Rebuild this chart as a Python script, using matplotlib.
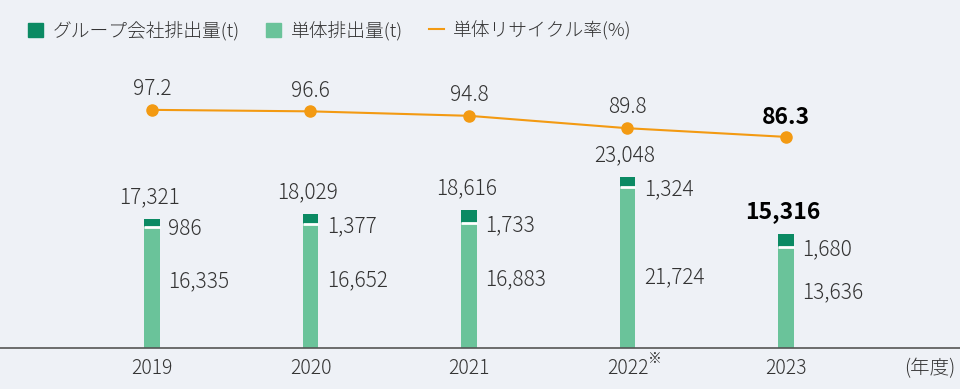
import numpy as np
import matplotlib.pyplot as plt
from matplotlib.patches import Patch
from matplotlib.lines import Line2D

plt.rcParams['font.family'] = ['Noto Sans CJK JP', 'DejaVu Sans']

years = ['2019', '2020', '2021', '2022', '2023']
total = [17321, 18029, 18616, 23048, 15316]
group = [986, 1377, 1733, 1324, 1680]
single = [16335, 16652, 16883, 21724, 13636]
recycle = [97.2, 96.6, 94.8, 89.8, 86.3]

bg = '#eef1f6'
c_group = '#0b8a63'
c_single = '#6ac39a'
c_line = '#f39a12'
txt = '#333333'

fig = plt.figure(figsize=(9.6, 3.89), dpi=100, facecolor=bg)
ax = fig.add_axes([0, 41/389, 1, 288/389], facecolor=bg)
x = np.arange(len(years))
w = 0.10

ax.bar(x, single, w, color=c_single, zorder=2)
ax.bar(x, group, w, bottom=single, color=c_group, zorder=2)
ax.hlines(single, x - w/2, x + w/2, color='white', lw=2, zorder=3)

ax.set_xlim(-0.959, 5.098)
ax.set_ylim(0, 38818)
for s in ['left', 'right', 'top']:
    ax.spines[s].set_visible(False)
ax.spines['bottom'].set_color('#555555')
ax.spines['bottom'].set_linewidth(1.2)
ax.set_yticks([])
ax.set_xticks(x)
ax.set_xticklabels(years, fontsize=14, color=txt, fontweight='light')
ax.tick_params(axis='x', length=0, pad=7)

for i in range(len(years)):
    last = i == len(years) - 1
    ax.annotate(f'{total[i]:,}', (x[i], total[i]), xytext=(-2, 8), textcoords='offset points',
                ha='center', va='bottom', fontsize=16.5 if last else 15,
                color='black' if last else txt,
                fontweight='bold' if last else 'light')
    ax.annotate(f'{group[i]:,}', (x[i] + w/2, single[i] - 300), xytext=(6, 0),
                textcoords='offset points', ha='left', va='center', fontsize=15, color=txt,
                fontweight='light')
    ax.annotate(f'{single[i]:,}', (x[i] + w/2, min(single[i]*0.55, 9600)), xytext=(6, 0),
                textcoords='offset points', ha='left', va='center', fontsize=15, color=txt,
                fontweight='light')

ax.annotate('※', (x[3], 0), xytext=(15, -3), textcoords='offset points',
            ha='left', va='top', fontsize=10, color=txt)
ax.text(0.995, -0.035, '(年度)', transform=ax.transAxes, ha='right', va='top',
        fontsize=14, color=txt, fontweight='light')

ax2 = ax.twinx()
ax2.set_ylim(1.2, 117.3)
ax2.axis('off')
ax2.plot(x, recycle, color=c_line, lw=1.5, marker='o', ms=8, zorder=4)
for i, v in enumerate(recycle):
    last = i == len(years) - 1
    ax2.annotate(f'{v}', (x[i], v), xytext=(0, 7 if not last else 6), textcoords='offset points',
                 ha='center', va='bottom', fontsize=16.5 if last else 15,
                 color='black' if last else txt,
                 fontweight='bold' if last else 'light')

handles = [Patch(color=c_group), Patch(color=c_single), Line2D([0], [0], color=c_line, lw=1.5)]
labels = ['グループ会社排出量(t)', '単体排出量(t)', '単体リサイクル率(%)']
fig.legend(handles, labels, loc='upper left', bbox_to_anchor=(0.012, 0.99), ncol=3,
           frameon=False, handlelength=0.8, handleheight=0.8,
           handletextpad=0.5, columnspacing=1.4, labelcolor=txt,
           prop={'weight': 'light', 'size': 13.5})

fig.savefig('out.png', dpi=100, facecolor=bg)
